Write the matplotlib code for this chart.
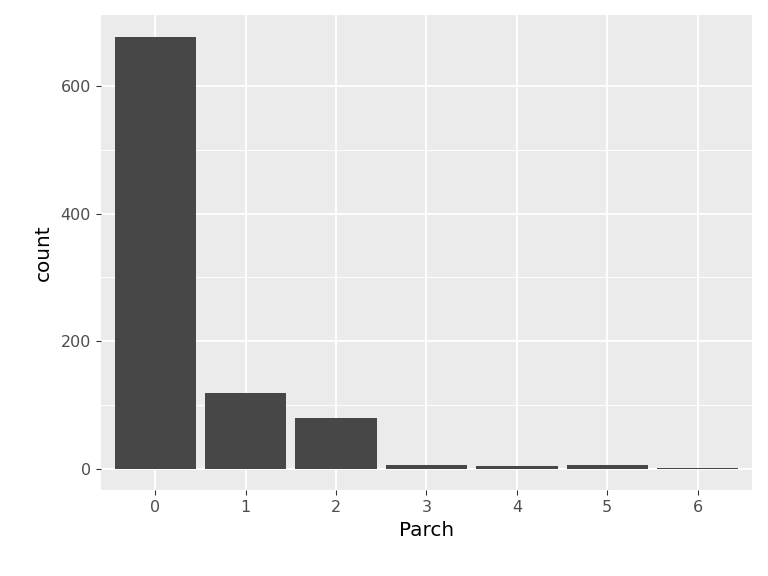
import matplotlib
matplotlib.use("agg")
import matplotlib.pyplot as plt

# Parch value counts
parch = [0, 1, 2, 3, 4, 5, 6]
counts = [678, 118, 80, 5, 4, 5, 1]

fig = plt.figure(figsize=(8, 6), dpi=96)
ax = fig.add_axes([0.1315, 0.149, 0.8475, 0.825])
ax.set_facecolor("#EBEBEB")
ax.bar(parch, counts, width=0.9, color="#474747", zorder=3)

ax.set_xlim(-0.6, 6.6)
ax.set_ylim(-33.9, 711.9)
ax.set_xticks(parch)
ax.set_yticks([0, 200, 400, 600])
ax.set_yticks([100, 300, 500], minor=True)
ax.grid(which="major", color="white", linewidth=1.4, zorder=0)
ax.grid(which="minor", axis="y", color="white", linewidth=0.7, zorder=0)
ax.tick_params(which="major", length=4, color="#333333", labelcolor="#4D4D4D",
               labelsize=12)
ax.tick_params(which="minor", length=0)
for s in ax.spines.values():
    s.set_visible(False)

ax.set_xlabel("Parch", fontsize=15, labelpad=4)
ax.set_ylabel("count", fontsize=15, labelpad=6)

fig.savefig("out.png", dpi=96)
